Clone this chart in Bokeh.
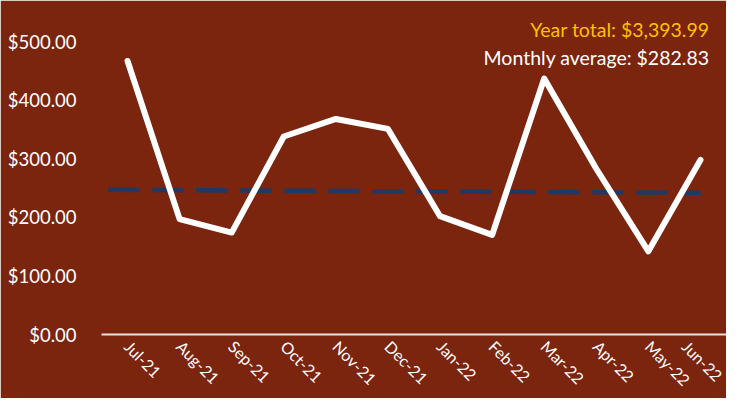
import math
from bokeh.plotting import figure
from bokeh.models import ColumnDataSource, FixedTicker, NumeralTickFormatter, Label, Range1d
from bokeh.embed import file_html
from bokeh.resources import INLINE

months = ["Jul-21", "Aug-21", "Sep-21", "Oct-21", "Nov-21", "Dec-21",
          "Jan-22", "Feb-22", "Mar-22", "Apr-22", "May-22", "Jun-22"]
expenses = [467, 197, 174, 338, 368, 351, 202, 170, 437, 283, 142, 298]
trend_start = 247
trend_end = 242
year_total = 3393.99
monthly_average = 282.83
y_ticks = [0, 100, 200, 300, 400, 500]

BG = "#7B240E"
FONT = "Lato"

idx = list(range(len(months)))
src = ColumnDataSource(dict(x=idx, y=expenses))

p = figure(width=726, height=398, output_backend="svg", toolbar_location=None,
           x_range=Range1d(-0.5, len(months) - 0.5), y_range=Range1d(0, 560),
           min_border_left=101, min_border_right=0, min_border_top=6, min_border_bottom=20)
p.background_fill_color = BG
p.border_fill_color = BG
p.outline_line_color = BG
p.outline_line_width = 2
p.xgrid.visible = False
p.ygrid.visible = False

# trend line (dashed)
tx0, tx1 = -0.37, len(months) - 1
p.line([tx0, tx1], [trend_start, trend_end], line_color="#1F3864", line_width=4.5,
       line_dash="31 13")

p.line("x", "y", source=src, line_color="white", line_width=6,
       line_join="round", line_cap="round")

# axes
p.yaxis.ticker = FixedTicker(ticks=y_ticks)
p.yaxis.formatter = NumeralTickFormatter(format="$0,0.00")
p.yaxis.axis_line_color = None
p.yaxis.major_tick_line_color = None
p.yaxis.minor_tick_line_color = None
p.yaxis.major_label_text_color = "white"
p.yaxis.major_label_text_font = FONT
p.yaxis.major_label_text_font_size = "18.5px"
p.yaxis.major_label_standoff = 19

p.xaxis.ticker = FixedTicker(ticks=idx)
p.xaxis.major_label_overrides = {i: m for i, m in zip(idx, months)}
p.xaxis.axis_line_color = "#E8E0DC"
p.xaxis.axis_line_width = 2
p.xaxis.major_tick_line_color = None
p.xaxis.minor_tick_line_color = None
p.xaxis.major_label_text_color = "white"
p.xaxis.major_label_text_font = FONT
p.xaxis.major_label_text_font_size = "16px"
p.xaxis.major_label_orientation = -math.pi / 4
p.xaxis.major_label_standoff = 3

p.add_layout(Label(x=len(months) - 0.5, y=560, x_offset=-17, y_offset=-23,
                   text=f"Year total: ${year_total:,.2f}", text_align="right",
                   text_baseline="alphabetic", text_color="#FFC000",
                   text_font=FONT, text_font_size="19.5px"))
p.add_layout(Label(x=len(months) - 0.5, y=560, x_offset=-17, y_offset=-51,
                   text=f"Monthly average: ${monthly_average:,.2f}", text_align="right",
                   text_baseline="alphabetic", text_color="white",
                   text_font=FONT, text_font_size="19.5px"))

open("out.html", "w").write(file_html(p, INLINE))
